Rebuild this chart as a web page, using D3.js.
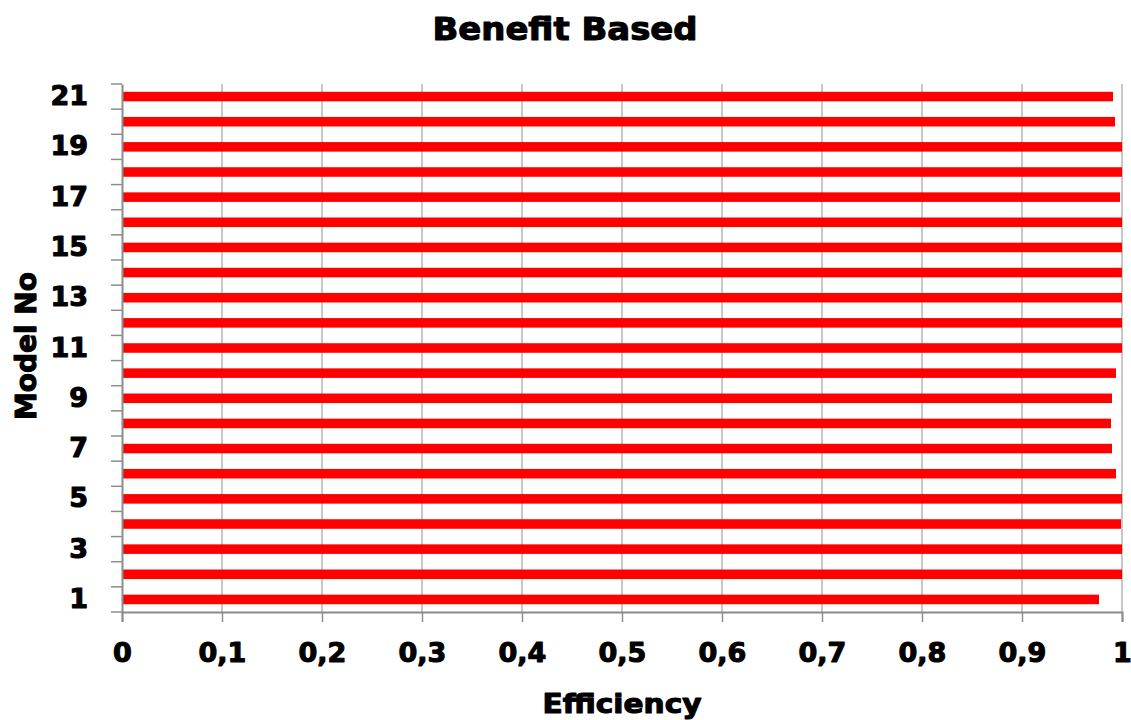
<!DOCTYPE html>
<html>
<head>
<meta charset="utf-8">
<script src="https://cdn.jsdelivr.net/npm/d3@7"></script>
<style>
  html, body { margin: 0; padding: 0; background: #fff; }
  svg text { font-family: "DejaVu Sans", "Liberation Sans", Arial, sans-serif; font-weight: bold; fill: #000; stroke: #000; stroke-width: 1.1px; stroke-linejoin: round; }
</style>
</head>
<body>
<svg id="chart" width="1131" height="720"></svg>
<script>
const categories = ["1","2","3","4","5","6","7","8","9","10","11","12","13","14","15","16","17","18","19","20","21"];
const efficiency = [0.977, 1.0, 1.0, 0.999, 1.0, 0.994, 0.990, 0.989, 0.990, 0.994, 1.0, 1.0, 1.0, 1.0, 1.0, 1.0, 0.998, 1.0, 1.0, 0.993, 0.991];
const xTicks = [0, 0.1, 0.2, 0.3, 0.4, 0.5, 0.6, 0.7, 0.8, 0.9, 1];
const yTickLabels = ["1","3","5","7","9","11","13","15","17","19","21"];
const title = "Benefit Based";
const xTitle = "Efficiency";
const yTitle = "Model No";

const svg = d3.select("#chart");
const mLeft = 122, mRight = 1122, mTop = 84, mBottom = 612;

const x = d3.scaleLinear().domain([0, 1]).range([mLeft, mRight]);
const y = d3.scaleBand().domain(categories.slice().reverse()).range([mTop, mBottom]).paddingInner(0.62).paddingOuter(0.31);

// gridlines
svg.append("g").selectAll("line").data(xTicks.filter(d => d > 0)).join("line")
  .attr("x1", d => x(d)).attr("x2", d => x(d))
  .attr("y1", mTop).attr("y2", mBottom)
  .attr("stroke", "#b4b4b4").attr("stroke-width", 1.5);

// bars
svg.append("g").selectAll("rect").data(categories).join("rect")
  .attr("x", x(0))
  .attr("y", d => y(d))
  .attr("width", (d, i) => x(efficiency[i]) - x(0))
  .attr("height", y.bandwidth())
  .attr("fill", "#ff0000");

// category boundary ticks
const step = (mBottom - mTop) / categories.length;
const bounds = d3.range(categories.length + 1).map(i => mTop + i * step);
svg.append("g").selectAll("line").data(bounds).join("line")
  .attr("x1", mLeft - 11).attr("x2", mLeft)
  .attr("y1", d => d).attr("y2", d => d)
  .attr("stroke", "#8c8c8c").attr("stroke-width", 1.5);

// x axis
const xAxis = svg.append("g").attr("transform", `translate(0,${mBottom})`)
  .call(d3.axisBottom(x).tickValues(xTicks).tickSize(10).tickPadding(21)
    .tickFormat(d => d3.format("~g")(d).replace(".", ",")));
xAxis.select(".domain").attr("stroke", "#8c8c8c").attr("stroke-width", 2);
xAxis.selectAll(".tick line").attr("stroke", "#8c8c8c").attr("stroke-width", 1.5);
xAxis.selectAll(".tick text").attr("font-size", 27).attr("dy", "0.71em");

// y axis
const yAxis = svg.append("g").attr("transform", `translate(${mLeft},0)`)
  .call(d3.axisLeft(y).tickValues(yTickLabels).tickSize(0).tickPadding(34));
yAxis.select(".domain").attr("stroke", "#8c8c8c").attr("stroke-width", 2);
yAxis.selectAll(".tick text").attr("font-size", 27);

// titles
svg.append("text").attr("x", 565).attr("y", 40).attr("text-anchor", "middle")
  .attr("font-size", 32).attr("textLength", 265).attr("lengthAdjust", "spacingAndGlyphs").text(title);
svg.append("text").attr("x", 622).attr("y", 713).attr("text-anchor", "middle")
  .attr("font-size", 27).attr("textLength", 159).attr("lengthAdjust", "spacingAndGlyphs").text(xTitle);
svg.append("text").attr("transform", "translate(36,346) rotate(-90)").attr("text-anchor", "middle")
  .attr("font-size", 28).attr("textLength", 148).attr("lengthAdjust", "spacingAndGlyphs").text(yTitle);
</script>
</body>
</html>
